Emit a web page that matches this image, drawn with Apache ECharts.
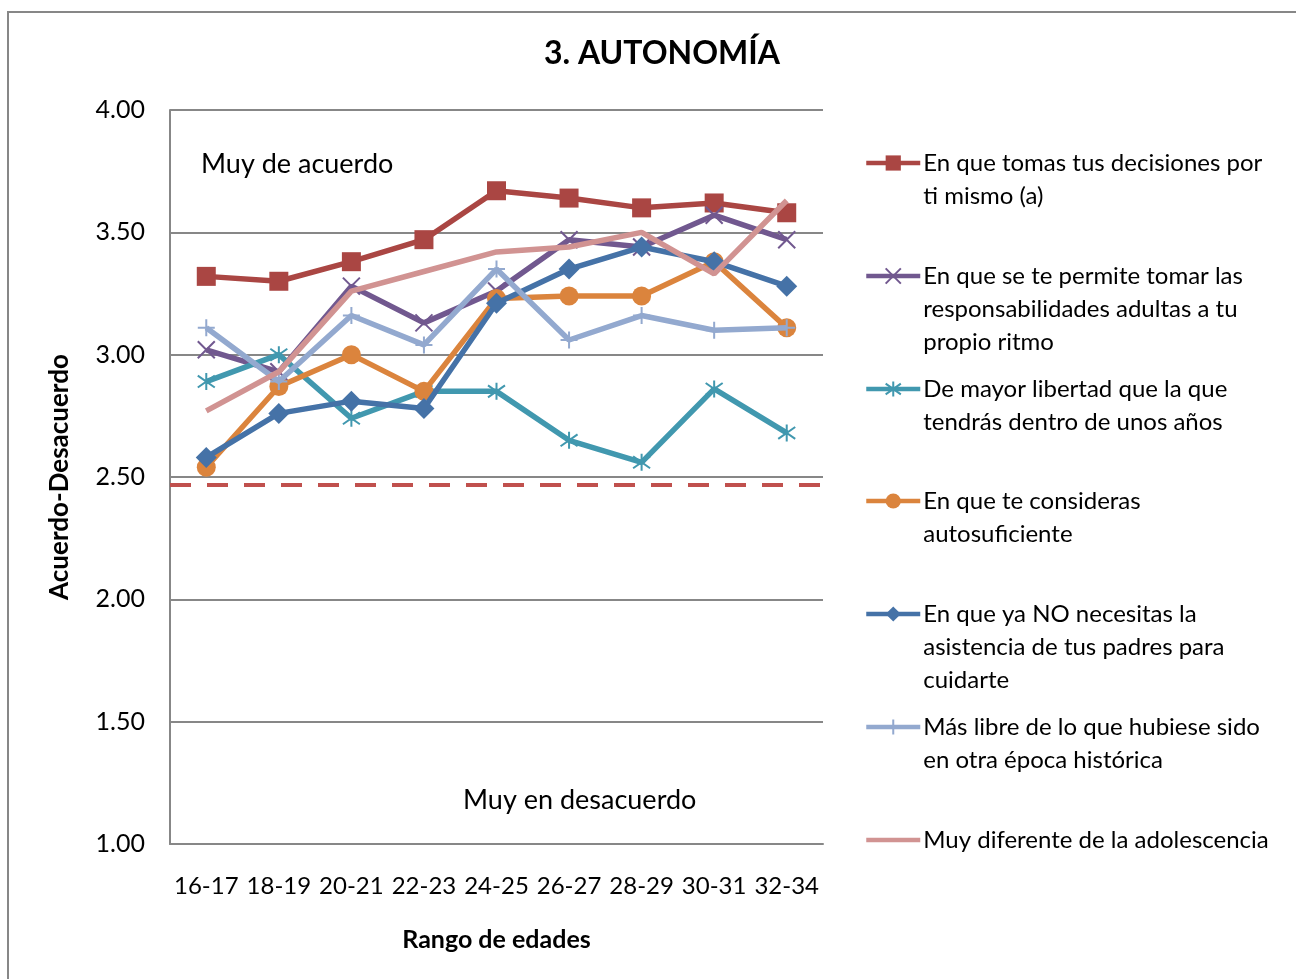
<!DOCTYPE html>
<html>
<head>
<meta charset="utf-8">
<script src="https://cdn.jsdelivr.net/npm/echarts@6/dist/echarts.min.js"></script>
<style>
  html, body { margin: 0; padding: 0; background: #fff; }
  #chart { width: 1296px; height: 979px; }
</style>
</head>
<body>
<div id="chart"></div>
<script>
// datos
var categorias = ['16-17', '18-19', '20-21', '22-23', '24-25', '26-27', '28-29', '30-31', '32-34'];
var nombres = [
  'En que tomas tus decisiones por ti mismo (a)',
  'En que se te permite tomar las responsabilidades adultas a tu propio ritmo',
  'De mayor libertad que la que tendrás dentro de unos años',
  'En que te consideras autosuficiente',
  'En que ya NO necesitas la asistencia de tus padres para cuidarte',
  'Más libre de lo que hubiese sido en otra época histórica',
  'Muy diferente de la adolescencia'
];
var lineasLeyenda = [
  ['En que tomas tus decisiones por', 'ti mismo (a)'],
  ['En que se te permite tomar las', 'responsabilidades adultas a tu', 'propio ritmo'],
  ['De mayor libertad que la que', 'tendrás dentro de unos años'],
  ['En que te consideras', 'autosuficiente'],
  ['En que ya NO necesitas la', 'asistencia de tus padres para', 'cuidarte'],
  ['Más libre de lo que hubiese sido', 'en otra época histórica'],
  ['Muy diferente de la adolescencia']
];
var decisiones     = [3.32, 3.30, 3.38, 3.47, 3.67, 3.64, 3.60, 3.62, 3.58];
var responsabilidades = [3.02, 2.93, 3.28, 3.13, 3.26, 3.47, 3.44, 3.57, 3.47];
var libertad       = [2.89, 3.00, 2.74, 2.85, 2.85, 2.65, 2.56, 2.86, 2.68];
var autosuficiente = [2.54, 2.87, 3.00, 2.85, 3.23, 3.24, 3.24, 3.38, 3.11];
var sinPadres      = [2.58, 2.76, 2.81, 2.78, 3.21, 3.35, 3.44, 3.38, 3.28];
var masLibre       = [3.11, 2.89, 3.16, 3.04, 3.35, 3.06, 3.16, 3.10, 3.11];
var diferente      = [2.77, 2.93, 3.26, 3.34, 3.42, 3.44, 3.50, 3.33, 3.63];
var umbral = 2.47;
var yTicks = [1, 1.5, 2, 2.5, 3, 3.5, 4];

var datos = [decisiones, responsabilidades, libertad, autosuficiente, sinPadres, masLibre, diferente];
var colores = ['#AA4643', '#71588F', '#4198AF', '#DB843D', '#4572A7', '#93A9CF', '#D19392'];
var simbolos = [
  'rect',
  'path://M0,0 L10,10 M10,0 L0,10',
  'path://M1.5,1.5 L8.5,8.5 M8.5,1.5 L1.5,8.5 M5,0 L5,10',
  'circle',
  'diamond',
  'path://M5,0 L5,10 M0,5 L10,5',
  'none'
];
var tamanos = [19, 17, 17, 19, 21, 17, 0];
var esTrazo = [false, true, true, false, false, true, false];

var fuente = 'Lato';
var chart = echarts.init(document.getElementById('chart'));

var series = datos.map(function (d, i) {
  var s = {
    name: nombres[i],
    type: 'line',
    data: d,
    symbol: simbolos[i],
    symbolSize: tamanos[i],
    showSymbol: simbolos[i] !== 'none',
    lineStyle: { color: colores[i], width: 5.5 },
    itemStyle: esTrazo[i]
      ? { color: 'none', borderColor: colores[i], borderWidth: 2 }
      : { color: colores[i], borderWidth: 0 },
    emphasis: { disabled: true },
    animation: false,
    z: 2 + i
  };
  if (i === 0) {
    s.markLine = {
      silent: true,
      symbol: 'none',
      label: { show: false },
      lineStyle: { color: '#C0504D', width: 4, type: [21, 16] },
      data: [{ yAxis: umbral }]
    };
  }
  return s;
});

// una leyenda por elemento para alinear el icono con la primera linea
var iconY = [163, 276, 389, 501, 614, 727, 840];
var lh = 33;
var leyendas = nombres.map(function (n, i) {
  var lineas = lineasLeyenda[i];
  var pad = [];
  for (var k = 0; k < lineas.length - 1; k++) pad.push('');
  var txt = pad.concat(lineas).join('\n');
  var total = 2 * lineas.length - 1;
  return {
    data: [n],
    orient: 'vertical',
    left: 864,
    top: iconY[i] - total * lh / 2,
    padding: 0,
    itemWidth: 54,
    itemHeight: 19,
    selectedMode: false,
    lineStyle: { width: 4.5 },
    itemStyle: simbolos[i] === 'none' ? { opacity: 0 } : {},
    formatter: function () { return txt; },
    textStyle: { fontFamily: fuente, fontSize: 24, lineHeight: lh, color: '#000', padding: [0, 0, 0, -2] }
  };
});

chart.setOption({
  animation: false,
  title: {
    text: '3. AUTONOMÍA',
    left: 657,
    top: 33,
    textAlign: 'center',
    textStyle: { fontFamily: fuente, fontSize: 32, fontWeight: 'bold', color: '#000' }
  },
  graphic: [
    { type: 'rect', shape: { x: 8, y: 12, width: 1400, height: 1200 }, style: { fill: 'none', stroke: '#878787', lineWidth: 2 }, silent: true },
    { type: 'text', left: 201, top: 151, style: { text: 'Muy de acuerdo', font: '27px ' + fuente, fill: '#000' }, silent: true },
    { type: 'text', left: 463, top: 787, style: { text: 'Muy en desacuerdo', font: '27px ' + fuente, fill: '#000' }, silent: true }
  ],
  legend: leyendas,
  grid: { left: 170, right: 473, top: 110, bottom: 135, containLabel: false },
  xAxis: {
    type: 'category',
    data: categorias,
    boundaryGap: true,
    name: 'Rango de edades',
    nameLocation: 'middle',
    nameGap: 83,
    nameTextStyle: { fontFamily: fuente, fontSize: 25, fontWeight: 'bold', color: '#000' },
    axisLine: { lineStyle: { color: '#878787', width: 2 } },
    axisTick: { show: false },
    axisLabel: { fontFamily: fuente, fontSize: 24, color: '#000', margin: 30, interval: 0 }
  },
  yAxis: {
    type: 'value',
    min: yTicks[0],
    max: yTicks[yTicks.length - 1],
    interval: 0.5,
    name: 'Acuerdo-Desacuerdo',
    nameLocation: 'middle',
    nameGap: 97,
    nameTextStyle: { fontFamily: fuente, fontSize: 26, fontWeight: 'bold', color: '#000' },
    axisLine: { show: true, lineStyle: { color: '#878787', width: 2 } },
    axisTick: { show: false },
    splitLine: { lineStyle: { color: '#878787', width: 2 } },
    axisLabel: {
      fontFamily: fuente, fontSize: 25, color: '#000', margin: 25,
      formatter: function (v) { return v.toFixed(2); }
    }
  },
  series: series
});
</script>
</body>
</html>
